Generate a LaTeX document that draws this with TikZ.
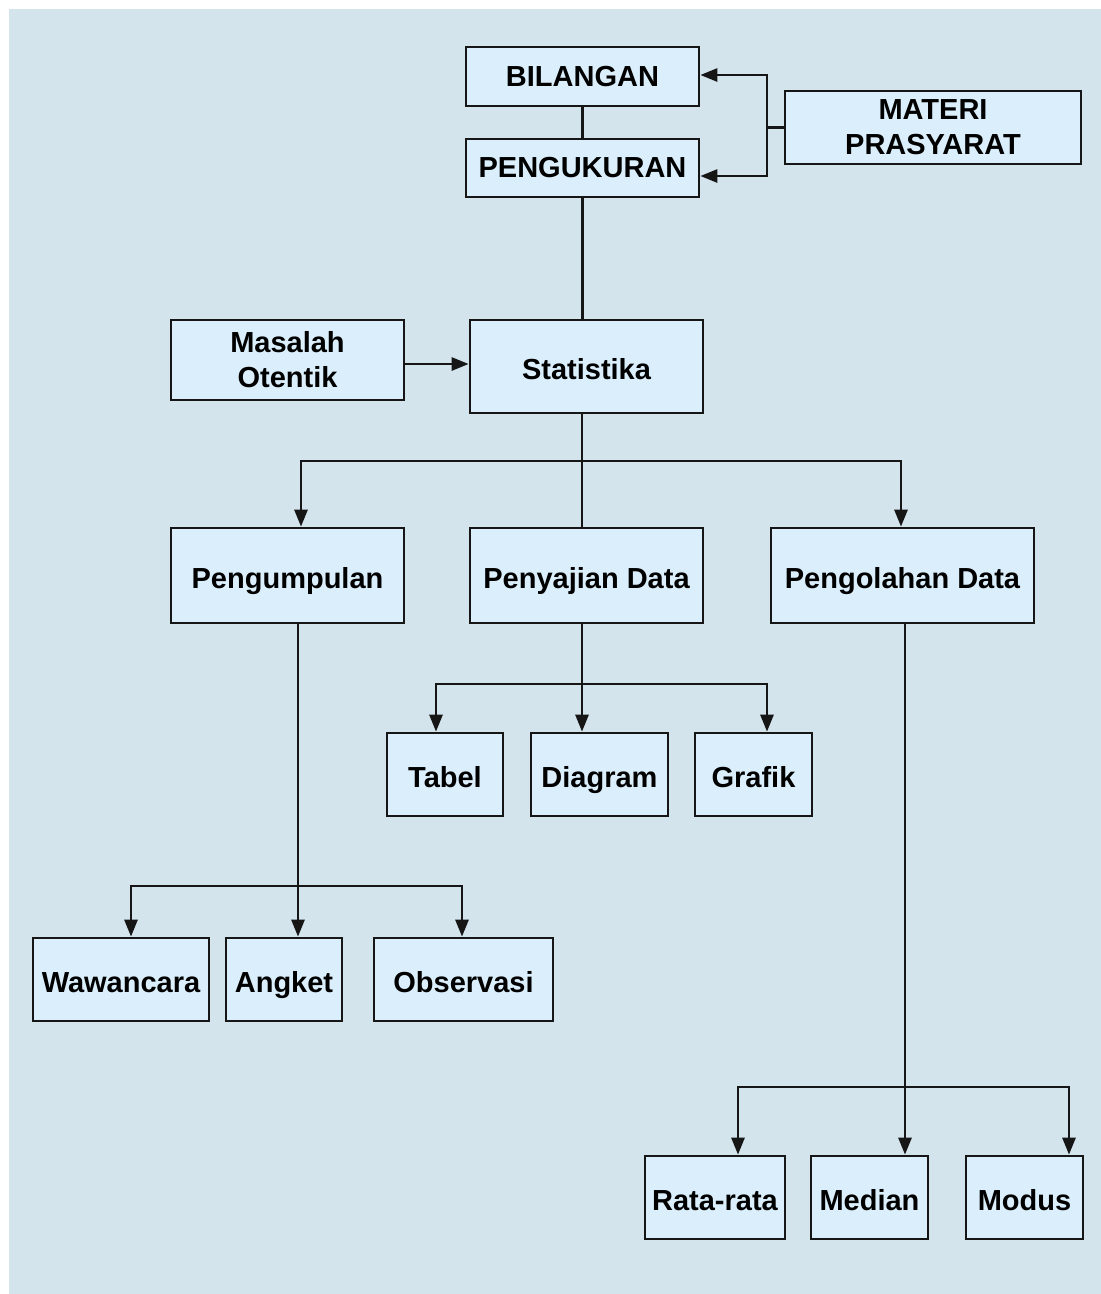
\documentclass[tikz,border=0pt]{standalone}
\usepackage{fontspec}
\setmainfont{Liberation Sans}
\usetikzlibrary{arrows.meta}
\usetikzlibrary{calc}
\definecolor{bgblue}{HTML}{D3E4ED}
\definecolor{boxblue}{HTML}{DAEFFB}
\definecolor{edge}{HTML}{161616}

\begin{document}
\begin{tikzpicture}[x=1pt, y=-1pt,
    box/.style={rectangle, draw=edge, fill=boxblue, line width=2.7pt, inner sep=0pt, align=center,
        font=\bfseries\fontsize{29}{35}\selectfont},
    onel/.style={box, text height=26pt, text depth=0pt},
    link/.style={draw=edge, line width=2.7pt},
    arr/.style={link, -{Triangle[length=17pt, width=13pt]}}]
    \useasboundingbox (0,0) rectangle (1101,1294);
    \fill[bgblue] (9,9) rectangle (1101,1294);

    % materi prasyarat
    \node[box, minimum width=233, minimum height=59] (bil) at (582.5,76.5) {BILANGAN};
    \node[box, minimum width=233, minimum height=58] (pku) at (582.5,168) {PENGUKURAN};
    \node[box, minimum width=296, minimum height=73] (mat) at (933,127.5) {MATERI\\PRASYARAT};
    \draw[link] (bil) -- (pku);
    \coordinate (m1) at (767,127.5);
    \draw[link] (mat.west) -- (m1);
    \draw[arr] (m1) |- ([yshift=1.5pt]bil.east);
    \draw[arr] (m1) |- ([yshift=-8pt]pku.east);

    % statistika
    \node[box, minimum width=233, minimum height=80] (mas) at (287.5,360) {Masalah\\Otentik};
    \node[onel, minimum width=233, minimum height=93] (stat) at (586.5,366.5) {Statistika};
    \draw[link] (pku.south) -- (pku.south |- stat.north);
    \draw[arr] ([yshift=-4pt]mas.east) -- ([yshift=-4pt]mas.east -| stat.west);

    \node[onel, minimum width=233, minimum height=95] (pgm) at (287.5,575.5) {Pengumpulan};
    \node[onel, minimum width=233, minimum height=95] (pny) at (586.5,575.5) {Penyajian Data};
    \node[onel, minimum width=263, minimum height=95] (plh) at (902.5,575.5) {Pengolahan Data};
    \coordinate (s1) at (582,461);
    \draw[link] (stat.south -| s1) -- (pny.north -| s1);
    \draw[arr] (s1) -| ([xshift=13.5pt]pgm.north);
    \draw[arr] (s1) -| ([xshift=-1.5pt]plh.north);

    % penyajian data
    \foreach \name/\x/\w/\txt in {tab/445/116/Tabel, dia/599.5/137/Diagram, gra/753.5/117/Grafik}
        \node[onel, minimum width=\w, minimum height=83] (\name) at (\x,774.5) {\txt};
    \coordinate (p1) at (582,684);
    \draw[arr] (pny.south -| p1) -- (dia.north -| p1);
    \draw[arr] (p1) -| ([xshift=-9pt]tab.north);
    \draw[arr] (p1) -| ([xshift=13.5pt]gra.north);

    % pengumpulan
    \foreach \name/\x/\w/\txt in {waw/121/176/Wawancara, ang/284/116/Angket, obs/463.5/179/Observasi}
        \node[onel, minimum width=\w, minimum height=83] (\name) at (\x,979.5) {\txt};
    \coordinate (k1) at (298,886);
    \draw[arr] (pgm.south -| k1) -- (ang.north -| k1);
    \draw[arr] (k1) -| ([xshift=10pt]waw.north);
    \draw[arr] (k1) -| ([xshift=-1.5pt]obs.north);

    % pengolahan data
    \foreach \name/\x/\w/\txt in {rat/715/140/Rata-rata, med/869.5/117/Median, mod/1024.5/117/Modus}
        \node[onel, minimum width=\w, minimum height=83] (\name) at (\x,1197.5) {\txt};
    \coordinate (o1) at (905,1087);
    \draw[arr] (plh.south -| o1) -- (med.north -| o1);
    \draw[arr] (o1) -| ([xshift=23pt]rat.north);
    \draw[arr] (o1) -| ([xshift=44.5pt]mod.north);
\end{tikzpicture}
\end{document}
